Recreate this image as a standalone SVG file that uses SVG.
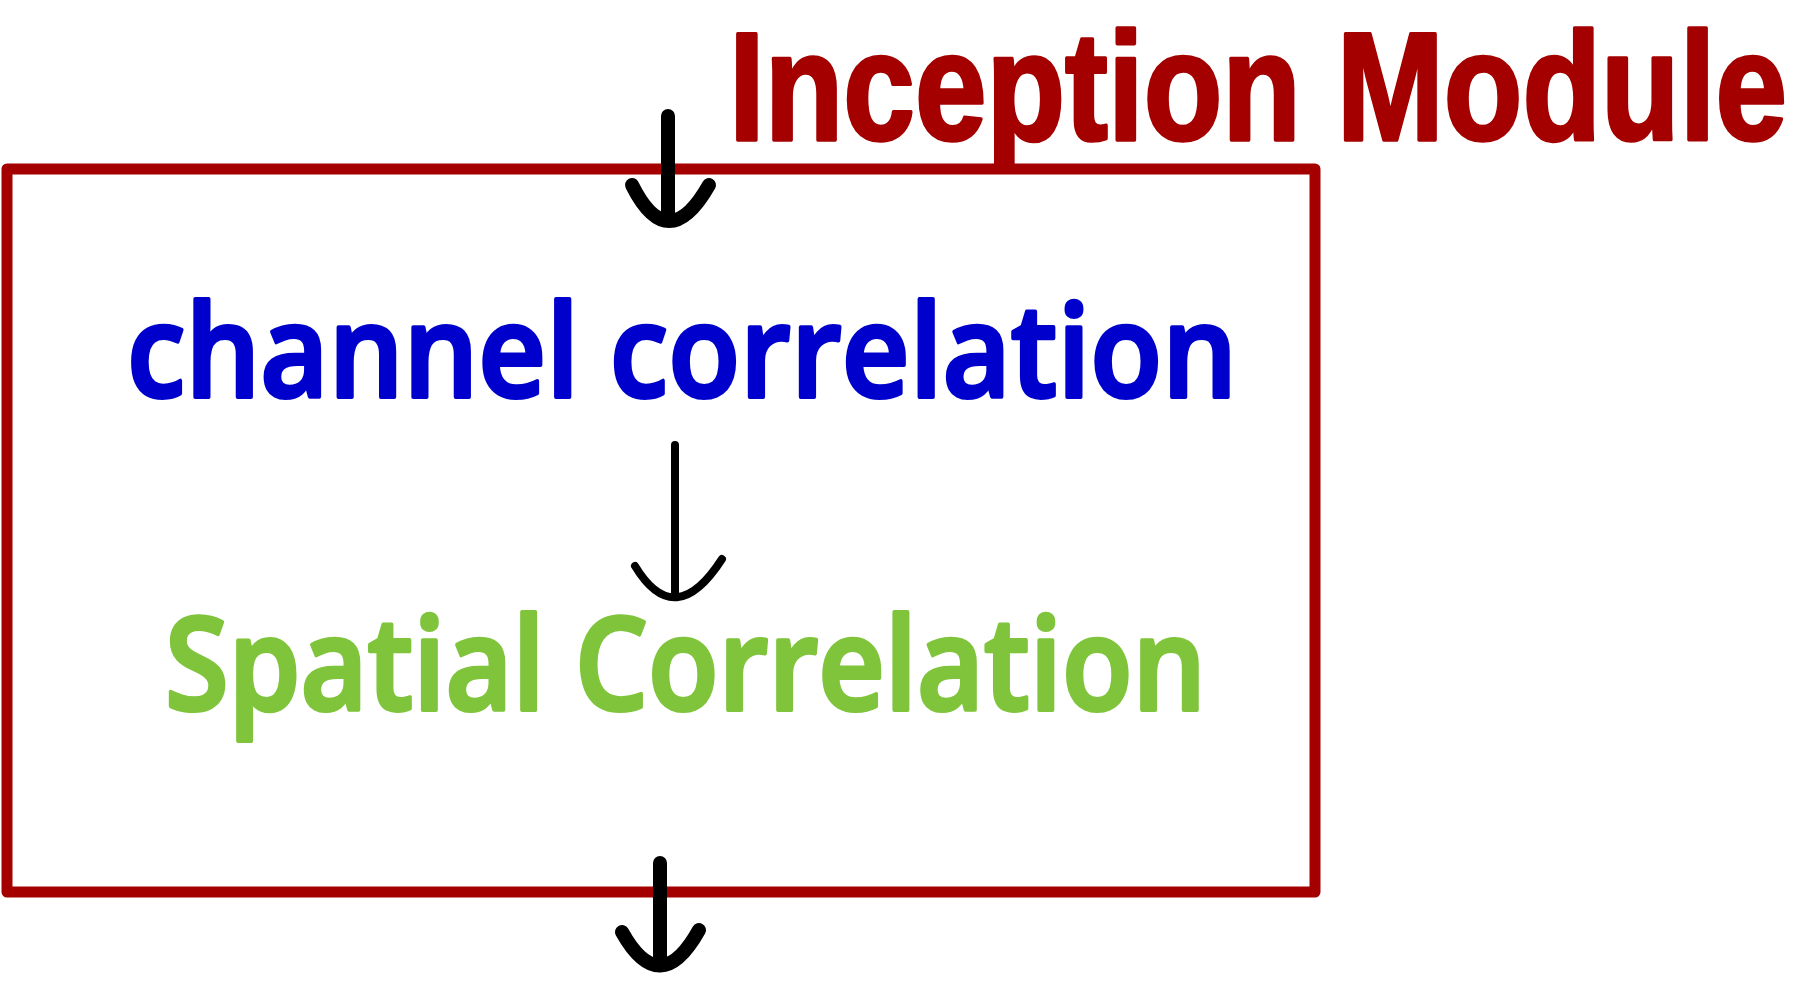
<svg xmlns="http://www.w3.org/2000/svg" width="1804" height="1000" viewBox="0 0 1804 1000">
<style>
.arrow{fill:none;stroke:#000;stroke-linecap:round;stroke-linejoin:round}
.thick{stroke-width:14}
.thin{stroke-width:8}
.lbl{font-family:"Open Sans","Liberation Sans",sans-serif;font-weight:600;stroke-linejoin:round;stroke-linecap:round}
.title{font-family:"Liberation Sans",Arial,sans-serif;font-weight:700;stroke-linejoin:round;stroke-linecap:round}
</style>
<rect width="1804" height="1000" fill="#fff"/>
<g id="module">
<rect x="7" y="169" width="1308" height="723" fill="none" stroke="#a40000" stroke-width="11" stroke-linejoin="round"/>
<text class="title" transform="translate(729 140) scale(1 1.2)" x="0" y="0" font-size="128" textLength="1058" lengthAdjust="spacingAndGlyphs" fill="#a40000" stroke="#a40000" stroke-width="3">Inception Module</text>
</g>
<g id="channel">
<text class="lbl" x="127" y="397" font-size="128" textLength="1110" lengthAdjust="spacingAndGlyphs" fill="#0000cc" stroke="#0000cc" stroke-width="4">channel correlation</text>
</g>
<g id="spatial">
<text class="lbl" x="165" y="710" font-size="128" textLength="1041" lengthAdjust="spacingAndGlyphs" fill="#7fc43b" stroke="#7fc43b" stroke-width="4">Spatial Correlation</text>
</g>
<g id="connectors">
<path class="arrow thick" d="M668 116 V217 M632 185 Q668 257 709 185"/>
<path class="arrow thin" d="M675 445 V596 M635 566 Q675 632 722 559"/>
<path class="arrow thick" d="M660 863 V962 M622 932 Q660 1000 699 930"/>
</g>
</svg>
